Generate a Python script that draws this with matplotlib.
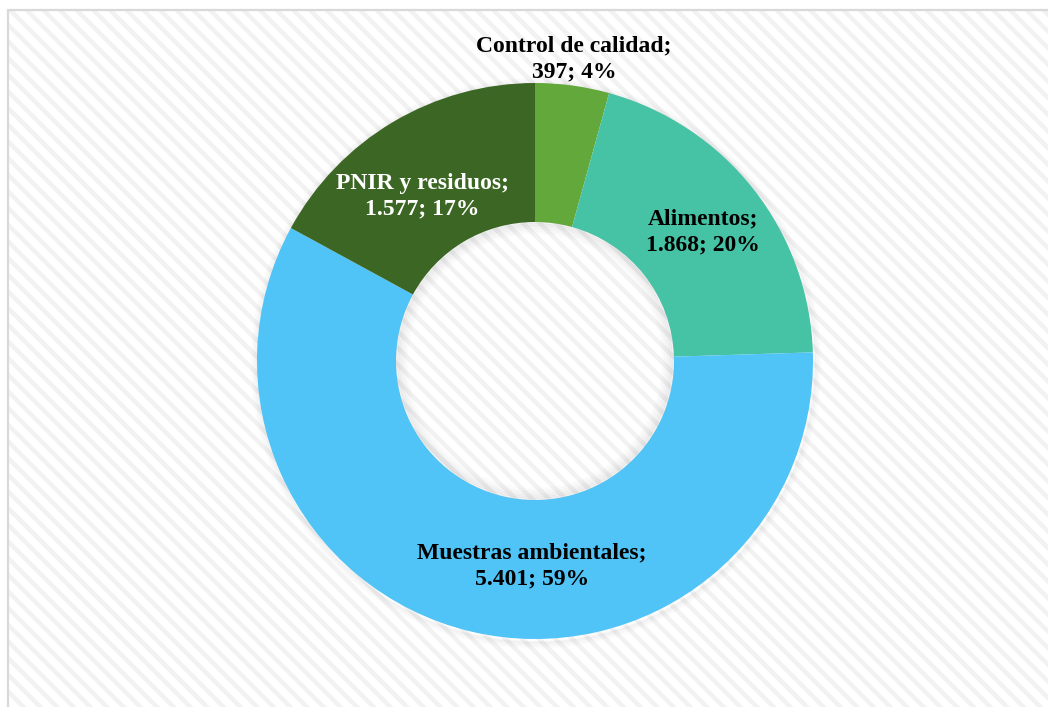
import numpy as np
import matplotlib
matplotlib.use("Agg")
import matplotlib.pyplot as plt
from matplotlib.patches import Rectangle, Circle

labels = ["Control de calidad", "Alimentos", "Muestras ambientales", "PNIR y residuos"]
values = [397, 1868, 5401, 1577]
value_text = ["397", "1.868", "5.401", "1.577"]
pct_text = ["4%", "20%", "59%", "17%"]
colors = ["#62A83A", "#46C3A5", "#50C3F7", "#3C6623"]
label_colors = ["black", "black", "black", "white"]
# label positions in pixels (x, y from top)
label_pos = [(574, 59), (703, 232), (532, 566), (422, 196)]

W, H = 1048, 707
plt.rcParams["hatch.linewidth"] = 3.2

fig = plt.figure(figsize=(W / 100, H / 100), dpi=100)
ax = fig.add_axes([0, 0, 1, 1])

cx, cy, R = 535, H - 361, 278

ax.pie(values, colors=colors, startangle=90, counterclock=False,
       center=(cx, cy), radius=R, frame=True,
       wedgeprops=dict(width=R * 0.5, linewidth=0, zorder=2))
ax.set_xlim(0, W)
ax.set_ylim(0, H)
ax.set_aspect("equal")
ax.axis("off")

# chart area with diagonal stripes and light border
ax.add_patch(Rectangle((8, -10), W, H, facecolor="white",
                       edgecolor="#f2f2f2", lw=0, hatch="\\\\", zorder=0))
ax.add_patch(Rectangle((8, -10), W, H, facecolor="none",
                       edgecolor="#d9d9d9", lw=1.6, zorder=1))

# soft shadow around the ring
for i in range(6):
    ax.add_patch(Circle((cx + 1, cy - 2), R + 1 + i * 1.2, facecolor="none",
                        edgecolor="#000000", lw=1.5, alpha=0.035 * (6 - i) / 6, zorder=1))
for i in range(8):
    ax.add_patch(Circle((cx, cy), R * 0.5 - 1 - i * 1.5, facecolor="none",
                        edgecolor="#000000", lw=1.8, alpha=0.05 * (8 - i) / 8, zorder=3))

for lab, v, p, c, (px, py) in zip(labels, value_text, pct_text, label_colors, label_pos):
    ax.text(px, H - py, f"{lab};\n{v}; {p}", ha="center", va="center",
            fontsize=17, fontweight="bold", family="Liberation Serif",
            color=c, linespacing=1.3, zorder=5)

fig.savefig("out.png", dpi=100)
